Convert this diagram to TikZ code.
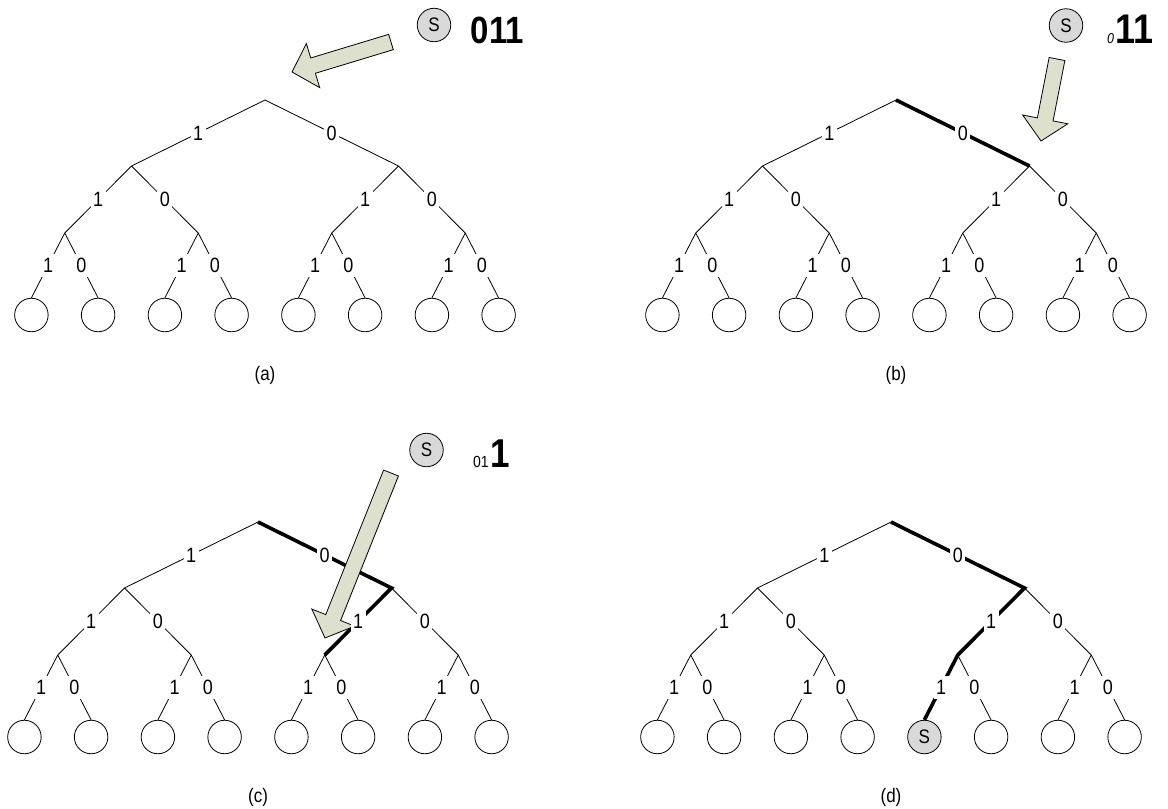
\documentclass[tikz,border=0pt]{standalone}
\usepackage{fontspec}
\setmainfont{Liberation Sans}
\usetikzlibrary{calc}

\definecolor{arrowfill}{RGB}{221,224,204}
\definecolor{tokenfill}{gray}{0.85}

% text is set slightly taller than wide
\newcommand\vs[1]{\scalebox{1}[1.15]{#1}}

\tikzset{
  edge/.style={line width=0.8pt},
  pathedge/.style={line width=3.6pt, line join=miter},
  lbl/.style={fill=white, inner xsep=2.5pt, inner ysep=4pt, font=\fontsize{18}{18}\selectfont},
  leaf/.style={circle, draw, line width=0.8pt, minimum size=33.5pt, inner sep=0pt},
  token/.style={leaf, fill=tokenfill, font=\fontsize{17}{17}\selectfont},
  caption/.style={font=\fontsize{17}{17}\selectfont},
  bits/.style={anchor=base west, inner sep=0pt},
  blockbody/.style={draw, line width=0.8pt, fill=arrowfill, line join=miter},
}

% binary tree: left branches carry 1, right branches carry 0
% #1 prefix, #2/#3 root position, #4 leaf holding the token (or none)
\newcommand\buildtree[4]{%
  \begin{scope}[shift={(#2,#3)}]
    \coordinate (#1r)   at (0,0);
    \coordinate (#1r1)  at (-133.5,66);
    \coordinate (#1r0)  at (133.5,66);
    \coordinate (#1r11) at (-200.25,133);
    \coordinate (#1r10) at (-66.75,133);
    \coordinate (#1r01) at (66.75,133);
    \coordinate (#1r00) at (200.25,133);
    \foreach \l/\x in {111/-233.6,110/-166.9,101/-100.1,100/-33.4,011/33.4,010/100.1,001/166.9,000/233.6}{%
      \edef\cur{\l}\edef\tok{#4}%
      \ifx\cur\tok
        \node[token] (#1r\l) at (\x,215) {\vs{S}};
      \else
        \node[leaf] (#1r\l) at (\x,215) {};
      \fi
    }
  \end{scope}}

\newcommand\treeedges[1]{%
  \draw[edge] (#1r) -- (#1r1)  (#1r) -- (#1r0)
              (#1r1) -- (#1r11) (#1r1) -- (#1r10)
              (#1r0) -- (#1r01) (#1r0) -- (#1r00)
              (#1r11) -- (#1r111.north) (#1r11) -- (#1r110.north)
              (#1r10) -- (#1r101.north) (#1r10) -- (#1r100.north)
              (#1r01) -- (#1r011.north) (#1r01) -- (#1r010.north)
              (#1r00) -- (#1r001.north) (#1r00) -- (#1r000.north);}

\newcommand\treelabels[1]{%
  \path (#1r) -- node[lbl]{\vs{1}} (#1r1)  (#1r) -- node[lbl]{\vs{0}} (#1r0)
        (#1r1) -- node[lbl]{\vs{1}} (#1r11) (#1r1) -- node[lbl]{\vs{0}} (#1r10)
        (#1r0) -- node[lbl]{\vs{1}} (#1r01) (#1r0) -- node[lbl]{\vs{0}} (#1r00)
        (#1r11) -- node[lbl]{\vs{1}} (#1r111.north) (#1r11) -- node[lbl]{\vs{0}} (#1r110.north)
        (#1r10) -- node[lbl]{\vs{1}} (#1r101.north) (#1r10) -- node[lbl]{\vs{0}} (#1r100.north)
        (#1r01) -- node[lbl]{\vs{1}} (#1r011.north) (#1r01) -- node[lbl]{\vs{0}} (#1r010.north)
        (#1r00) -- node[lbl]{\vs{1}} (#1r001.north) (#1r00) -- node[lbl]{\vs{0}} (#1r000.north);}

% block arrow from its tail (#2) to its tip (#1)
\newcommand\blockarrow[2]{%
  \path let \p1 = ($(#2)-(#1)$) in
    \pgfextra{\pgfmathsetmacro\baang{atan2(\y1,\x1)}%
              \pgfmathsetmacro\balen{veclen(\x1,\y1)}%
              \global\let\baang\baang\global\let\balen\balen};
  \begin{scope}[shift={(#1)}, rotate=\baang]
    \draw[blockbody] (0pt,0pt) -- (22pt,23pt) -- (22pt,8pt) -- (\balen pt,8pt)
      -- (\balen pt,-8pt) -- (22pt,-8pt) -- (22pt,-23pt) -- cycle;
  \end{scope}}

\begin{document}
\begin{tikzpicture}[x=1pt, y=-1pt]
\useasboundingbox (0,0) rectangle (1168,809);

% ---------- (a) ----------
\buildtree{a}{265}{100}{none}
\treeedges{a}
\coordinate (atip) at (292,72);
\coordinate (atail) at (391,42);
\blockarrow{atip}{atail}
\treelabels{a}
\node[token] (sa) at (434,25) {\vs{S}};
\node[bits] (bitsa) at (470.5,43) {\vs{\fontsize{33}{33}\selectfont\bfseries 011}};
\node[caption] (capa) at (265,375) {\vs{(a)}};

% ---------- (b) ----------
\buildtree{b}{896}{100}{none}
\treeedges{b}
\draw[pathedge] (br) -- (br0);
\coordinate (btip) at (1041,141);
\coordinate (btail) at (1057,59);
\blockarrow{btip}{btail}
\treelabels{b}
\node[token] (sb) at (1066,25.5) {\vs{S}};
\node[bits] (bitsb) at (1107,43) {\vs{{\fontsize{12.5}{13}\selectfont\itshape 0}\kern1pt{\fontsize{36}{36}\selectfont\bfseries 11}}};
\node[caption] (capb) at (896,375) {\vs{(b)}};

% ---------- (c) ----------
\buildtree{c}{258}{522}{none}
\treeedges{c}
\draw[pathedge] (cr) -- (cr0) -- (cr01);
\coordinate (ctip) at (325,638);
\coordinate (ctail) at (391,473);
\blockarrow{ctip}{ctail}
\treelabels{c}
\node[token] (sc) at (426.5,450) {\vs{S}};
\node[bits] (bitsc) at (473,467) {\vs{{\fontsize{14}{14}\selectfont 01}\kern2pt{\fontsize{35}{35}\selectfont\bfseries 1}}};
\node[caption] (capc) at (258,797) {\vs{(c)}};

% ---------- (d) ----------
\buildtree{d}{891}{522}{011}
\treeedges{d}
\draw[pathedge] (dr) -- (dr0) -- (dr01) -- (dr011.north);
\treelabels{d}
\node[caption] (capd) at (891,797) {\vs{(d)}};

\end{tikzpicture}
\end{document}
